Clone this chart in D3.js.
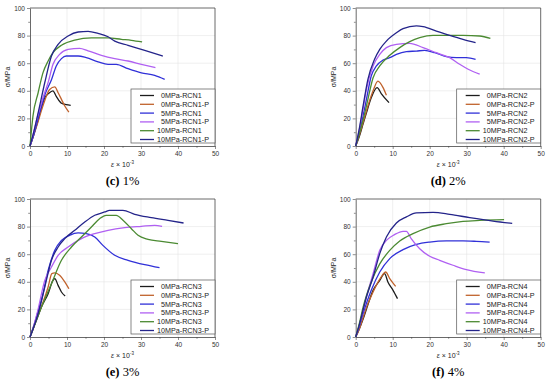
<!DOCTYPE html>
<html>
<head>
<meta charset="utf-8">
<script src="https://cdn.jsdelivr.net/npm/d3@7"></script>
<style>
	body { margin: 0; background: #fff; }
	svg { display: block; font-family: "Liberation Sans", Arial, sans-serif; }
	.tick text { font-size: 6.5px; fill: #333; }
	.domain { stroke: #444; }
	.tick line { stroke: #444; }
</style>
</head>
<body>
<div id="chart"></div>
<script>
// series names and colours (same in every panel)
var pressures = ['0MPa', '0MPa', '5MPa', '5MPa', '10MPa', '10MPa'];
var suffixes = ['', '-P', '', '-P', '', '-P'];
var colors = ['#1c1c1c', '#c0622c', '#3030d8', '#b060f2', '#4b8a32', '#24248a'];

var xTicks = [0, 10, 20, 30, 40, 50];
var yTicks = [0, 20, 40, 60, 80, 100];

// (c) 1% : [strain x10^-3, stress MPa]
var c_0   = [[0,0],[1,8],[2,17],[3,27],[4,35],[5,38],[6.2,40],[7.1,36],[8.5,31],[9.8,30],[11,29.5]];
var c_0P  = [[0,0],[1,8],[2,16],[3,25],[4,33],[5.3,41],[6.7,42.8],[7.6,38.6],[8.5,33.8],[9.4,29],[10.5,24.6]];
var c_5   = [[0,0],[1,8],[2,18],[3,28],[4,37],[5.8,48],[7.1,58],[8.5,63.3],[9.8,65.2],[13,65.2],[15.2,64],[18.4,61],[21.1,59.2],[23.3,59.2],[26.5,56],[30.1,53],[33.7,51.2],[36.4,48.3]];
var c_5P  = [[0,0],[1,10],[2,21],[3.5,35],[4.9,46],[6.2,59],[8,66.4],[10.3,70],[13.4,70.8],[15.7,69],[19.3,65.7],[22.9,63.3],[26.5,61.6],[30.1,59.2],[33.9,56.8]];
var c_10  = [[0,0],[0.8,21.7],[2.2,38.6],[3.5,53],[4.9,61.6],[6.2,67.6],[8.5,73],[12.1,76.8],[16.6,78.3],[21.1,78.3],[24.7,77.3],[27.4,76.6],[30.3,75.4]];
var c_10P = [[0,0],[1,10],[2.2,24],[4,46],[5.8,65.2],[7.6,73.7],[10.3,79.7],[13,82.6],[15.7,83.1],[18.4,81.6],[21.1,79.2],[22.9,76],[26.5,73],[31,69.3],[35.9,65.2]];

// (d) 2%
var d_0   = [[0,0],[1,7],[2,16],[2.9,24],[4.2,35],[5.8,42.3],[6.9,38],[9,31.4]];
var d_0P  = [[0,0],[1,8],[2,17],[3.3,29],[4.7,40],[6,47],[7.4,42.3],[8.3,36.7]];
var d_5   = [[0,0],[1,10],[2,22],[2.9,33.8],[4.2,50.7],[5.6,58],[7.4,62.3],[9.2,64],[11,66.4],[13.7,68.4],[16.4,68.8],[18.6,69.3],[21.4,67.6],[24.5,64.7],[27.2,64],[29.9,64],[32.4,62.8]];
var d_5P  = [[0,0],[1,12],[2,27],[2.9,41],[4.7,58],[6.5,66.4],[8.3,71.3],[11,73.7],[14.6,74.4],[18.2,71.3],[21.8,67.6],[25.4,64],[28.1,59.2],[30.4,55.6],[33.5,52]];
var d_10  = [[0,0],[1,9],[2,19],[2.9,29],[4.7,49.5],[6.5,58],[9.2,65.7],[11.9,71.3],[14.6,75.6],[17.3,78.5],[20.9,80.2],[24.5,80.2],[29,80.2],[33.5,79.7],[36.4,78]];
var d_10P = [[0,0],[1,13],[2,29],[3.3,48.3],[5.1,62.8],[6.5,70],[8.3,76],[11,82],[12.8,85],[16.4,87],[18.2,86.5],[21.8,83.3],[25.4,80.2],[29,77.3],[32.4,74.9]];

// (e) 3%
var e_0   = [[0,0],[1,7],[2,14],[3.1,21.7],[4.9,31.4],[6.2,41],[6.7,42.3],[7.6,37.4],[8.5,32.6],[9.5,29.7]];
var e_0P  = [[0,0],[1,7],[2,15],[3.5,25],[4.9,36.2],[5.9,45.9],[6.7,46.4],[8,44.7],[9.4,39.9],[10.5,35]];
var e_5   = [[0,0],[1,8],[2,17],[3.1,26.6],[4.9,48.3],[6.7,62.8],[8.5,70],[10.7,73.7],[13,75.4],[15.2,74.9],[17.5,72.5],[19.7,66.4],[22.9,59.2],[26.5,55.6],[31,52.4],[35,50.2]];
var e_5P  = [[0,0],[1,8],[2,18],[4,41],[5.8,50.7],[7.6,59.2],[10.3,65.2],[13.9,71.3],[17.5,74.9],[21.1,77.3],[25.6,79.2],[30.1,80.2],[33.7,80.9],[35.7,80.2]];
var e_10  = [[0,0],[1,7],[3.1,21.7],[5.8,38.6],[8.5,55.6],[11.2,65.2],[13.9,72.5],[16.6,79.7],[18.8,85.7],[20.6,88.2],[23.3,88.2],[25.2,84.5],[27.4,78.5],[29.2,73.7],[31.9,70.8],[35.5,69.3],[40,67.6]];
var e_10P = [[0,0],[1,7],[2.2,17],[4,36.2],[5.8,55.6],[7.6,65.2],[9.4,71.3],[12.1,77.3],[14.8,83.3],[17.5,88.2],[20.2,90.6],[21.5,91.8],[25.1,91.8],[28.3,88.9],[32.8,86.5],[37.3,84.5],[41.5,82.6]];

// (f) 4%
var f_0   = [[0,0],[1,6],[2,13],[3,21],[4.7,33.8],[6.5,41],[7.8,45.9],[8.7,39.9],[10.1,33.8],[11.3,27.8]];
var f_0P  = [[0,0],[1,6],[2,14],[3,22],[4.7,32.6],[6.9,43.5],[8.1,47.1],[9.2,42.3],[10.8,36.7]];
var f_5   = [[0,0],[1,8],[2,16.9],[4.2,33.8],[6.5,47.1],[9.2,56.8],[12.8,63.3],[16.4,67.1],[20,68.8],[24.5,69.6],[29,69.6],[32.6,69.3],[36.2,68.8]];
var f_5P  = [[0,0],[1,9],[2,19],[2.9,29],[4.7,45.9],[6.5,62.8],[8.3,70],[10.5,74.2],[12.8,76.6],[13.7,76.6],[15,71.3],[17.3,64],[20,58.5],[22.7,55.6],[26.3,52],[29.9,48.8],[34.9,46.4]];
var f_10  = [[0,0],[1,10],[2,21.7],[4.2,39.9],[6.5,53],[9.2,62.8],[11.9,69.6],[15.5,74.9],[20,79.7],[24.5,82.1],[29,83.8],[33.5,84.5],[40.1,85]];
var f_10P = [[0,0],[1,9],[2.9,29],[4.7,43.5],[6.5,60.4],[8.3,72.5],[11,82.6],[13.7,87],[16.4,89.9],[20.9,90.3],[25.4,88.9],[30.8,86.5],[37.1,84],[42.3,82.4]];

var panels = [
	{ x: 30,    y: 8,   letter: '(c)', pct: '1%', rcn: 'RCN1', series: [c_0, c_0P, c_5, c_5P, c_10, c_10P] },
	{ x: 355.7, y: 8,   letter: '(d)', pct: '2%', rcn: 'RCN2', series: [d_0, d_0P, d_5, d_5P, d_10, d_10P] },
	{ x: 30,    y: 199, letter: '(e)', pct: '3%', rcn: 'RCN3', series: [e_0, e_0P, e_5, e_5P, e_10, e_10P] },
	{ x: 355.7, y: 199, letter: '(f)', pct: '4%', rcn: 'RCN4', series: [f_0, f_0P, f_5, f_5P, f_10, f_10P] }
];

var width = 550, height = 382;
var pw = 185, ph = 138;

var svg = d3.select('#chart').append('svg')
	.attr('width', width)
	.attr('height', height);

var x = d3.scaleLinear().domain([0, 50]).range([0, pw]);
var y = d3.scaleLinear().domain([0, 100]).range([ph, 0]);

var line = d3.line()
	.x(function(d){ return x(d[0]); })
	.y(function(d){ return y(d[1]); })
	.curve(d3.curveMonotoneX);

panels.forEach(function(p){
	var g = svg.append('g').attr('transform', 'translate(' + p.x + ',' + p.y + ')');

	// grid
	g.append('g').selectAll('line.gx')
		.data(xTicks.slice(1, -1))
		.enter().append('line')
		.attr('x1', x).attr('x2', x)
		.attr('y1', 0).attr('y2', ph)
		.attr('stroke', '#e4e4e4').attr('stroke-width', 0.6);
	g.append('g').selectAll('line.gy')
		.data(yTicks.slice(1, -1))
		.enter().append('line')
		.attr('y1', y).attr('y2', y)
		.attr('x1', 0).attr('x2', pw)
		.attr('stroke', '#e4e4e4').attr('stroke-width', 0.6);

	// minor ticks
	g.append('g').attr('transform', 'translate(0,' + ph + ')')
		.call(d3.axisBottom(x).tickValues([5, 15, 25, 35, 45]).tickSize(1.8).tickFormat(''))
		.call(function(s){ s.select('.domain').remove(); });
	g.append('g')
		.call(d3.axisLeft(y).tickValues([10, 30, 50, 70, 90]).tickSize(1.8).tickFormat(''))
		.call(function(s){ s.select('.domain').remove(); });

	// axes
	g.append('g').attr('transform', 'translate(0,' + ph + ')')
		.call(d3.axisBottom(x).tickValues(xTicks).tickSize(3).tickSizeOuter(0).tickPadding(2));
	g.append('g')
		.call(d3.axisLeft(y).tickValues(yTicks).tickSize(3).tickSizeOuter(0).tickPadding(2));
	g.selectAll('.domain').attr('stroke-width', 0.8);
	g.selectAll('.tick line').attr('stroke-width', 0.6);

	// top/right frame
	g.append('path')
		.attr('d', 'M0,0H' + pw + 'V' + ph)
		.attr('fill', 'none').attr('stroke', '#444').attr('stroke-width', 0.8);

	// curves
	g.selectAll('path.curve')
		.data(p.series)
		.enter().append('path')
		.attr('class', 'curve')
		.attr('d', line)
		.attr('fill', 'none')
		.attr('stroke', function(d, i){ return colors[i]; })
		.attr('stroke-width', 1.3);

	// legend
	var lx = 101, ly = 81, lw = pw - lx, lh = 54;
	var lg = g.append('g').attr('transform', 'translate(' + lx + ',' + ly + ')');
	lg.append('rect')
		.attr('width', lw).attr('height', lh)
		.attr('fill', '#fff').attr('stroke', '#555').attr('stroke-width', 0.7);
	var rows = lg.selectAll('g.row')
		.data(pressures)
		.enter().append('g')
		.attr('transform', function(d, i){ return 'translate(0,' + (6.5 + i * 8.8) + ')'; });
	rows.append('line')
		.attr('x1', 9).attr('x2', 23)
		.attr('stroke', function(d, i){ return colors[i]; })
		.attr('stroke-width', 1.3);
	rows.append('text')
		.attr('x', function(d){ return d.length > 4 ? 26 : 30; })
		.attr('dy', '0.35em')
		.attr('font-size', 7.2)
		.attr('fill', '#222')
		.text(function(d, i){ return d + '-' + p.rcn + suffixes[i]; });

	// axis titles
	g.append('text')
		.attr('transform', 'translate(-20,' + (ph / 2) + ') rotate(-90)')
		.attr('text-anchor', 'middle')
		.attr('font-size', 7)
		.attr('fill', '#222')
		.text('σ/MPa');
	var xt = g.append('text')
		.attr('x', pw / 2).attr('y', ph + 21)
		.attr('text-anchor', 'middle')
		.attr('font-size', 7)
		.attr('fill', '#222');
	xt.append('tspan').attr('font-style', 'italic').text('ε');
	xt.append('tspan').text(' × 10');
	xt.append('tspan').attr('dy', -3).attr('font-size', 4.5).text('-3');

	// caption
	var cap = g.append('text')
		.attr('x', pw / 2).attr('y', ph + 39)
		.attr('text-anchor', 'middle')
		.attr('font-family', '"Liberation Serif", "DejaVu Serif", serif')
		.attr('font-size', 12.5)
		.attr('fill', '#000');
	cap.append('tspan').attr('font-weight', 'bold').text(p.letter);
	cap.append('tspan').text(' ' + p.pct);
});
</script>
</body>
</html>
